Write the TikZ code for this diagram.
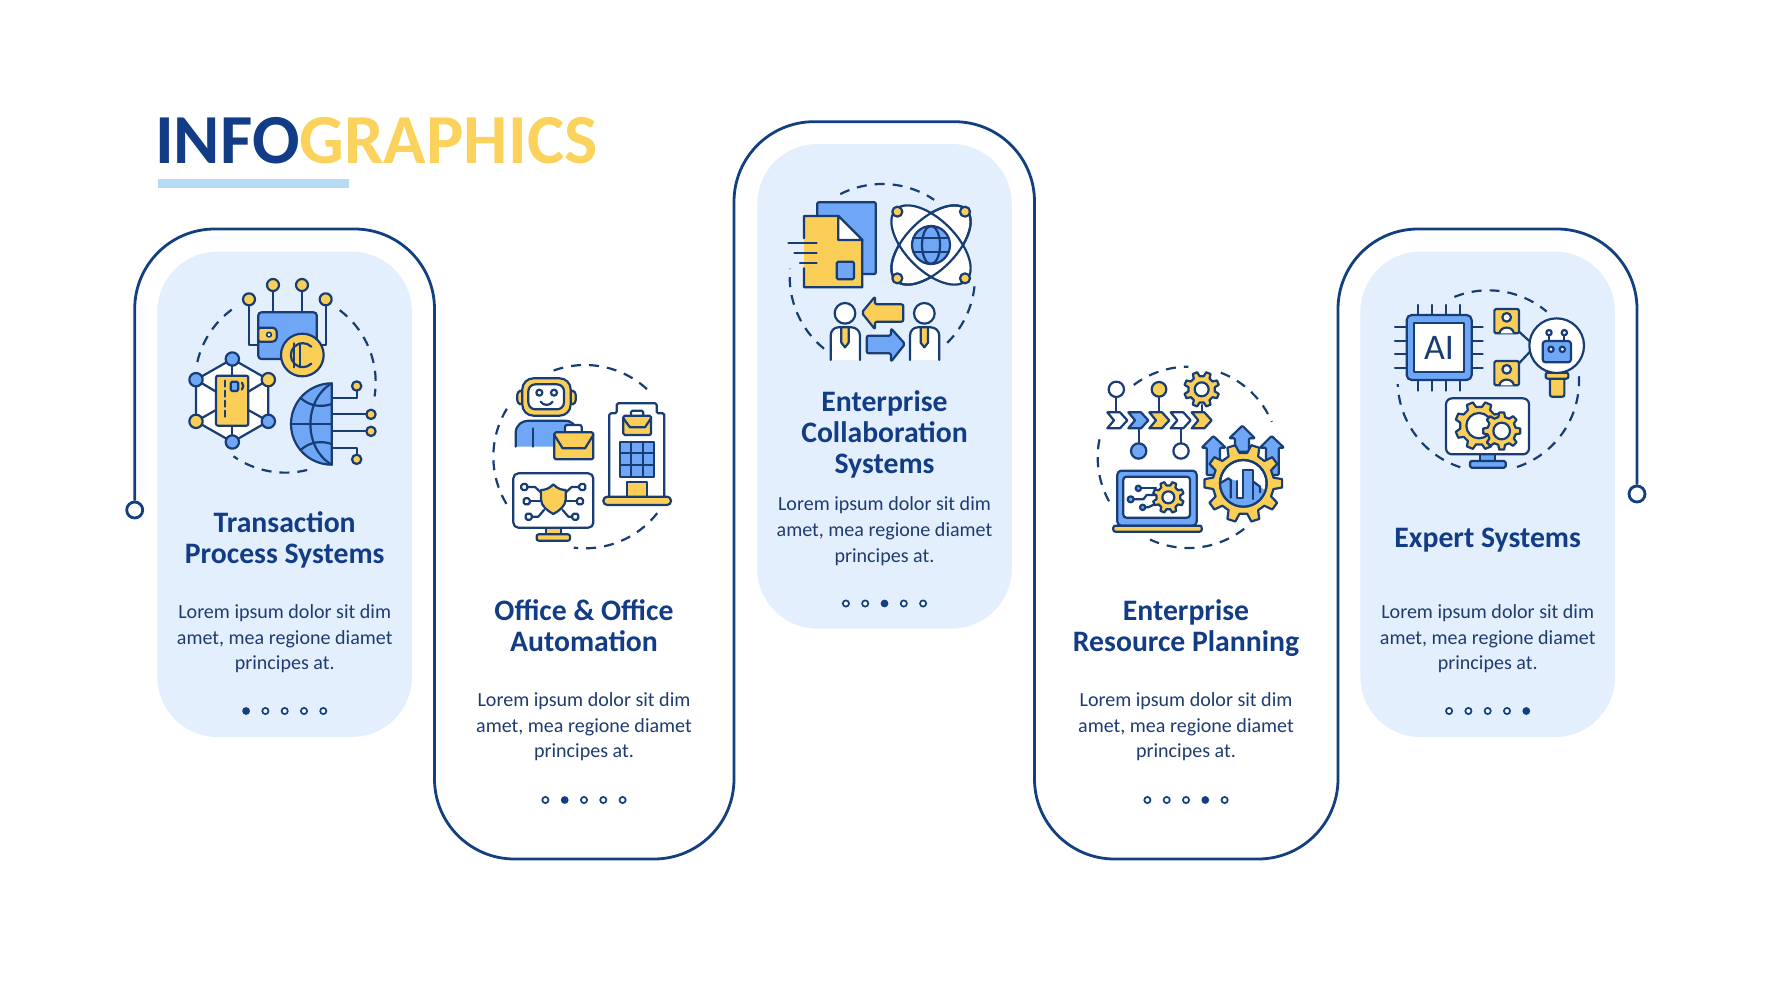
\documentclass[tikz,border=0pt]{standalone}
\usepackage{fontspec}
\setmainfont{Carlito}
\definecolor{navy}{HTML}{123F80}
\definecolor{ink}{HTML}{173D74}
\definecolor{yel}{HTML}{FBCE57}
\definecolor{blu}{HTML}{6FA6F6}
\definecolor{pan}{HTML}{E3EFFC}
\definecolor{bodyc}{HTML}{1F3C70}
\definecolor{titlec}{HTML}{123C85}
\definecolor{gold}{HTML}{FBD35C}
\definecolor{barc}{HTML}{B5DBF5}
\tikzset{
  framepath/.style={draw=navy,line width=2.8pt,rounded corners=80pt},
  enddot/.style={circle,draw=navy,line width=2.8pt,fill=white,minimum size=16pt,inner sep=0pt},
  panelbox/.style={fill=pan,rounded corners=60pt,inner sep=0pt,minimum width=254.5pt},
  headline/.style={font=\fontsize{29.7}{31}\selectfont\bfseries,text=titlec,align=center,anchor=base,inner sep=0pt},
  bodytext/.style={font=\fontsize{20.05}{26}\selectfont,text=bodyc,align=center,anchor=base,inner sep=0pt},
  ic/.style={draw=ink,line width=2.2pt,line join=round,line cap=round},
  dashc/.style={draw=ink,line width=2.2pt,dash pattern=on 10pt off 8pt,line cap=butt},
  Y/.style={ic,fill=yel},
  B/.style={ic,fill=blu},
  W/.style={ic,fill=white},
  zoomed/.style={x=0.33333pt,y=-0.33333pt}
}
\newcommand{\darc}[5]{\draw[dashc] (#1,#2) ++(#4:#3) arc[start angle=#4,end angle=#5,radius=#3];}
\newcommand{\gearshape}[8]{% cx cy ro ri hole teeth rot holefill
 \begin{scope}[shift={(#1,#2)}]
 \draw[Y] ({#7-0.3*360/#6}:#4) \foreach \k in {1,...,#6}{
   -- ({#7+(\k-1)*360/#6-0.3*360/#6}:#4)
   -- ({#7+(\k-1)*360/#6-0.17*360/#6}:#3)
   -- ({#7+(\k-1)*360/#6+0.17*360/#6}:#3)
   -- ({#7+(\k-1)*360/#6+0.3*360/#6}:#4)} -- cycle;
 \draw[ic,fill=#8] (0,0) circle[radius=#5];
 \end{scope}}
\newcommand{\pager}[3]{% cx cy active
 \foreach \k in {1,...,5}{
  \ifnum\k=#3\relax
   \fill[navy] ({#1+(\k-3)*19.3},#2) circle[radius=3.9];
  \else
   \draw[navy,line width=1.7pt,fill=white] ({#1+(\k-3)*19.3},#2) circle[radius=3.1];
  \fi}}
\begin{document}
\begin{tikzpicture}[x=1pt,y=-1pt]
\useasboundingbox (0,0) rectangle (1772,980);
\fill[white] (0,0) rectangle (1772,980);

% heading
\node[anchor=base west,inner sep=0pt,font=\fontsize{70.3}{70}\selectfont\bfseries] (heading) at (155,163.7) {\textcolor{titlec}{INFO}\textcolor{gold}{GRAPHICS}};
\fill[barc] (158.3,179) rectangle (349,187.7);

% panels
\node[panelbox,minimum height=485.3pt] (p1) at (284.6,494.3) {};
\node[panelbox,minimum height=484.6pt] (p3) at (884.5,386.3) {};
\node[panelbox,minimum height=485.3pt] (p5) at (1487.7,494.3) {};

% end dots and serpentine frame
\node[enddot] (dotA) at (134.7,510) {};
\node[enddot] (dotB) at (1637,494) {};
\draw[framepath] (dotA.north) -- (134.7,229) -- (434.5,229) -- (434.5,859) -- (734,859) -- (734,121.7) -- (1034.5,121.7) -- (1034.5,859) -- (1338,859) -- (1338,229) -- (1637,229) -- (dotB.north);

% texts
\node[headline] (t1a) at (284.7,532.7) {Transaction};
\node[headline] (t1b) at (284.7,563.7) {Process Systems};
\node[bodytext] (b1a) at (284.7,618) {Lorem ipsum dolor sit dim};
\node[bodytext] (b1b) at (284.7,644) {amet, mea regione diamet};
\node[bodytext] (b1c) at (284.7,669.5) {principes at.};
\pager{284.7}{711}{1}

\node[headline] (t2a) at (584,620.7) {Office \& Office};
\node[headline] (t2b) at (584,651.7) {Automation};
\node[bodytext] (b2a) at (584,706) {Lorem ipsum dolor sit dim};
\node[bodytext] (b2b) at (584,732) {amet, mea regione diamet};
\node[bodytext] (b2c) at (584,757.5) {principes at.};
\pager{584}{800}{2}

\node[headline] (t3a) at (884.5,411.3) {Enterprise};
\node[headline] (t3b) at (884.5,442.3) {Collaboration};
\node[headline] (t3c) at (884.5,473.3) {Systems};
\node[bodytext] (b3a) at (884.5,510.6) {Lorem ipsum dolor sit dim};
\node[bodytext] (b3b) at (884.5,536.6) {amet, mea regione diamet};
\node[bodytext] (b3c) at (884.5,562.1) {principes at.};
\pager{884.5}{603.5}{3}

\node[headline] (t4a) at (1186,620.7) {Enterprise};
\node[headline] (t4b) at (1186,651.7) {Resource Planning};
\node[bodytext] (b4a) at (1186,706) {Lorem ipsum dolor sit dim};
\node[bodytext] (b4b) at (1186,732) {amet, mea regione diamet};
\node[bodytext] (b4c) at (1186,757.5) {principes at.};
\pager{1186}{800}{4}

\node[headline] (t5a) at (1487.7,547.7) {Expert Systems};
\node[bodytext] (b5a) at (1487.7,618) {Lorem ipsum dolor sit dim};
\node[bodytext] (b5b) at (1487.7,644) {amet, mea regione diamet};
\node[bodytext] (b5c) at (1487.7,669.5) {principes at.};
\pager{1487.7}{711}{5}

%%%%%%%%%% ICON 1
\begin{scope}[shift={(170,260)},zoomed]
\darc{346}{367}{271}{193}{236}
\darc{346}{367}{271}{-53}{9}
\darc{346}{367}{271}{76}{125}
% wallet leads
\draw[ic] (237,118) |- (265,255);
\draw[ic] (467,118) |- (440,255);
\draw[ic] (309,75) -- (309,157);
\draw[ic] (396,75) -- (396,157);
\draw[Y] (237,118) circle[radius=18];
\draw[Y] (309,75) circle[radius=18];
\draw[Y] (396,75) circle[radius=18];
\draw[Y] (467,118) circle[radius=18];
\draw[B,rounded corners=3pt] (265,157) rectangle (440,297);
\draw[Y,rounded corners=1.5pt] (265,203) -- (312,203) -- (320,210) -- (320,238) -- (312,245) -- (265,245) -- cycle;
\draw[W,line width=1.6pt] (297,224) circle[radius=7];
\draw[Y] (397,285) circle[radius=64];
\draw[ic] (372,250) -- (372,322);
\draw[ic] (391,250) -- (391,322);
\draw[ic] (424,260) arc[start angle=-45,end angle=-315,radius=36];
% hexagon
\draw[W] (187,297) -- (295,359) -- (295,484) -- (187,546) -- (78,484) -- (78,359) -- cycle;
\draw[ic] (78,359) -- (138,395);
\draw[ic] (295,359) -- (235,395);
\draw[ic] (78,484) -- (138,450);
\draw[ic] (295,484) -- (235,450);
\draw[ic] (187,297) -- (187,347);
\draw[ic] (187,497) -- (187,546);
\draw[Y,rounded corners=2pt] (138,347) rectangle (235,497);
\draw[B,rounded corners=1.5pt] (182,365) rectangle (205,393);
\draw[ic,dash pattern=on 6pt off 4pt] (165,362) -- (165,478);
\draw[ic] (216,368) arc[start angle=-40,end angle=40,radius=16];
\draw[B] (187,297) circle[radius=20];
\draw[Y] (295,359) circle[radius=20];
\draw[B] (295,484) circle[radius=20];
\draw[B] (187,546) circle[radius=20];
\draw[Y] (78,484) circle[radius=20];
\draw[B] (78,359) circle[radius=20];
% globe
\draw[ic] (485,413) -- (560,413) -- (560,378);
\draw[ic] (485,463) -- (603,463);
\draw[ic] (485,514) -- (603,514);
\draw[ic] (485,565) -- (560,565) -- (560,598);
\draw[B] (485,370) arc[start angle=-90,end angle=-270,radius=122] -- cycle;
\draw[ic] (363,492) -- (485,492);
\draw[ic] (485,370) .. controls (400,420) and (400,565) .. (485,614);
\draw[ic] (392,414) .. controls (420,440) and (455,442) .. (485,432);
\draw[ic] (392,570) .. controls (420,544) and (455,542) .. (485,552);
\draw[Y] (560,378) circle[radius=14];
\draw[Y] (603,463) circle[radius=14];
\draw[Y] (603,514) circle[radius=14];
\draw[Y] (560,598) circle[radius=14];
\end{scope}

%%%%%%%%%% ICON 2
\begin{scope}[shift={(480,350)},zoomed]
\darc{315}{320}{275}{149}{213}
\darc{315}{320}{275}{-110}{-43}
\darc{315}{320}{275}{38}{97}
% robot
\draw[Y,rounded corners=3pt] (127,120) -- (112,125) -- (112,160) -- (127,165) -- cycle;
\draw[Y,rounded corners=3pt] (272,120) -- (287,125) -- (287,160) -- (272,165) -- cycle;
\fill[blu] (107,290) -- (107,250) .. controls (107,225) and (125,212) .. (150,212) -- (255,212) .. controls (272,212) and (285,222) .. (290,240) -- (280,290) -- cycle;
\draw[ic] (107,290) -- (107,250) .. controls (107,225) and (125,212) .. (150,212) -- (255,212) .. controls (272,212) and (285,222) .. (290,240);
\draw[ic] (160,290) -- (160,235);
\draw[Y,rounded corners=11pt] (127,85) rectangle (272,197);
\draw[W,rounded corners=7pt] (145,103) rectangle (252,178);
\draw[ic] (178,128) circle[radius=9];
\draw[ic] (222,128) circle[radius=9];
\draw[ic] (182,155) .. controls (190,168) and (210,168) .. (218,155);
% case
\draw[W,rounded corners=2pt] (255,247) -- (255,225) -- (305,225) -- (305,247);
\draw[Y,rounded corners=1.5pt] (223,247) rectangle (340,328);
\draw[ic] (223,255) -- (248,295) -- (315,295) -- (340,255);
% building
\draw[W,rounded corners=1.5pt] (388,445) -- (388,190) -- (410,190) -- (410,160) -- (530,160) -- (530,190) -- (553,190) -- (553,445);
\draw[W,rounded corners=1.5pt] (453,197) -- (453,182) -- (490,182) -- (490,197);
\draw[Y,rounded corners=1.5pt] (430,197) rectangle (513,255);
\draw[ic] (430,205) -- (450,232) -- (495,232) -- (513,205);
\draw[B] (420,275) rectangle (522,380);
\draw[ic] (454,275) -- (454,380) (488,275) -- (488,380) (420,310) -- (522,310) (420,345) -- (522,345);
\draw[Y] (442,440) rectangle (500,397);
\draw[Y,rounded corners=4pt] (370,440) rectangle (573,465);
% monitor
\draw[Y] (197,533) rectangle (243,556);
\draw[Y,rounded corners=2pt] (170,553) rectangle (270,572);
\draw[W,rounded corners=5pt] (100,370) rectangle (340,533);
\foreach \ax/\ay/\bx/\by/\cx/\cy in {133/411/165/411/188/432, 140/454/185/454/185/454, 146/500/175/500/192/480, 307/411/275/411/252/432, 300/454/255/454/255/454, 286/500/265/500/248/480}{
  \draw[ic] (\ax,\ay) -- (\bx,\by) -- (\cx,\cy);
  \draw[W,rounded corners=1.5pt] (\ax-9,\ay-9) rectangle (\ax+9,\ay+9);
}
\draw[Y] (220,403) .. controls (232,416) and (245,420) .. (257,420) -- (257,448) .. controls (257,468) and (238,482) .. (220,492) .. controls (202,482) and (183,468) .. (183,448) -- (183,420) .. controls (195,420) and (208,416) .. (220,403) -- cycle;
\end{scope}

%%%%%%%%%% ICON 3
\begin{scope}[shift={(780,170)},zoomed]
\darc{307}{320}{278}{-117}{-56}
\darc{307}{320}{278}{6}{47}
\darc{307}{320}{278}{129}{185}
% documents
\draw[B,rounded corners=1pt] (112,138) -- (112,97) -- (287,97) -- (287,312) -- (247,312);
\fill[yel] (72,138) -- (175,138) -- (247,210) -- (247,352) -- (72,352) -- cycle;
\draw[ic] (72,205) -- (72,138) -- (175,138) -- (247,210) -- (247,352) -- (72,352) -- (72,295);
\draw[W] (175,138) -- (247,210) -- (175,210) -- cycle;
\draw[B,rounded corners=1.5pt] (170,275) rectangle (222,328);
\draw[ic] (25,218) -- (110,218);
\draw[ic] (43,248) -- (110,248);
\draw[ic] (60,280) -- (110,280);
% atom
\draw[W,rotate around={45:(453,225)}] (453,225) ellipse[x radius=150,y radius=76];
\draw[ic,fill=white,rotate around={-45:(453,225)}] (453,225) ellipse[x radius=150,y radius=76];
\draw[ic,rotate around={45:(453,225)}] (453,225) ellipse[x radius=150,y radius=76];
\draw[B] (453,225) circle[radius=57];
\draw[ic] (453,225) ellipse[x radius=27,y radius=57];
\draw[ic] (402,203) -- (504,203);
\draw[ic] (402,247) -- (504,247);
\draw[Y] (352,125) circle[radius=15];
\draw[Y] (555,125) circle[radius=15];
\draw[Y] (352,325) circle[radius=15];
\draw[Y] (555,325) circle[radius=15];
% people
\foreach \px in {195,433}{
  \fill[white] (\px-43,570) -- (\px-43,497) .. controls (\px-43,482) and (\px-32,472) .. (\px-20,472) -- (\px+20,472) .. controls (\px+32,472) and (\px+45,482) .. (\px+45,497) -- (\px+45,570) -- cycle;
  \draw[ic] (\px-43,570) -- (\px-43,497) .. controls (\px-43,482) and (\px-32,472) .. (\px-20,472) -- (\px+20,472) .. controls (\px+32,472) and (\px+45,482) .. (\px+45,497) -- (\px+45,570);
  \draw[Y] (\px-11,472) -- (\px+11,472) -- (\px+11,518) -- (\px,532) -- (\px-11,518) -- cycle;
  \draw[W] (\px,430) circle[radius=31];
}
\draw[Y,rounded corners=2pt] (245,428) -- (285,380) -- (285,403) -- (370,403) -- (370,455) -- (285,455) -- (285,478) -- cycle;
\draw[B,rounded corners=2pt] (375,522) -- (333,475) -- (333,497) -- (260,497) -- (260,550) -- (333,550) -- (333,575) -- cycle;
\end{scope}

%%%%%%%%%% ICON 4
\begin{scope}[shift={(1080,355)},zoomed]
\darc{325}{307}{272}{-127}{-90}
\darc{325}{307}{272}{-69}{-23}
\darc{325}{307}{272}{151}{194}
\darc{325}{307}{272}{52}{115}
\draw[ic] (109,103) -- (109,172);
\draw[ic] (237,103) -- (237,172);
\draw[ic] (176,288) -- (176,220);
\draw[ic] (303,288) -- (303,220);
\draw[ic] (365,150) -- (365,172);
\foreach \ox/\st in {82/W,145/B,208/Y,272/W,335/Y}{
  \draw[\st] (\ox,172) -- (\ox+38,172) -- (\ox+60,196) -- (\ox+38,220) -- (\ox,220) -- (\ox+20,196) -- cycle;
}
\draw[W] (109,103) circle[radius=23];
\draw[Y] (237,103) circle[radius=22];
\draw[B] (176,288) circle[radius=23];
\draw[W] (303,288) circle[radius=23];
\gearshape{365}{103}{53}{40}{21}{8}{22.5}{white}
% laptop
\draw[B,rounded corners=4pt] (112,347) rectangle (350,512);
\draw[W,rounded corners=3pt] (130,365) rectangle (330,488);
\draw[Y,rounded corners=2pt] (100,512) rectangle (365,530);
\draw[ic] (175,400) -- (228,400);
\draw[ic] (152,433) -- (190,433) -- (200,420) -- (228,420);
\draw[ic] (188,457) -- (205,457) -- (228,445);
\draw[B] (175,400) circle[radius=8];
\draw[B] (152,433) circle[radius=9];
\draw[B] (188,457) circle[radius=8];
\gearshape{265}{427}{47}{36}{18}{8}{22.5}{white}
% arrows
\draw[B,rounded corners=1pt] (400,243) -- (437,278) -- (420,278) -- (420,360) -- (380,360) -- (380,278) -- (365,278) -- cycle;
\draw[B,rounded corners=1pt] (575,243) -- (612,278) -- (596,278) -- (596,360) -- (558,360) -- (558,278) -- (540,278) -- cycle;
\draw[B,rounded corners=1pt] (487,212) -- (525,250) -- (507,250) -- (507,290) -- (465,290) -- (465,250) -- (448,250) -- cycle;
% big gear
\gearshape{490}{385}{117}{92}{70}{10}{0}{white}
\begin{scope}
\clip (490,385) circle[radius=68];
\fill[blu] (420,385) -- (445,370) -- (470,378) -- (470,460) -- (420,460) -- cycle;
\fill[blu] (490,345) rectangle (520,460);
\fill[blu] (420,428) rectangle (560,460);
\fill[blu] (520,380) -- (560,410) -- (560,460) -- (520,460) -- cycle;
\draw[ic] (420,385) -- (445,370) -- (452,375) -- (452,428);
\draw[ic] (470,378) -- (470,428) -- (490,428) -- (490,345) -- (520,345) -- (520,432);
\draw[ic] (520,380) -- (540,395) -- (540,412);
\end{scope}
\draw[ic] (490,385) circle[radius=70];
\end{scope}

%%%%%%%%%% ICON 5
\begin{scope}[shift={(1380,280)},zoomed]
\darc{325}{303}{272}{-112}{-50}
\darc{325}{303}{272}{-3}{72}
\darc{325}{303}{272}{108}{178}
% chip
\foreach \t in {115,157,198,240}{\draw[ic] (\t,75) -- (\t,332);}
\foreach \t in {140,182,223,265}{\draw[ic] (45,\t) -- (308,\t);}
\draw[B,rounded corners=5pt] (80,105) rectangle (275,300);
\draw[W] (103,128) rectangle (252,277);
\node[inner sep=0pt,text=ink,font=\fontsize{36}{36}\selectfont] (ailabel) at (177,203) {AI};
% users
\draw[ic] (417,155) -- (450,185);
\draw[ic] (417,250) -- (450,215);
\foreach \uy in {87,243}{
  \draw[Y,rounded corners=1.5pt] (343,\uy) rectangle (417,\uy+73);
  \draw[W] (380,\uy+25) circle[radius=13];
  \draw[W] (358,\uy+73) .. controls (362,\uy+50) and (398,\uy+50) .. (402,\uy+73);
}
% bulb
\draw[Y,rounded corners=2pt] (510,285) rectangle (553,350);
\draw[Y,rounded corners=2pt] (497,278) rectangle (565,296);
\draw[W] (530,197) circle[radius=82];
\draw[ic] (507,158) -- (507,183);
\draw[ic] (553,158) -- (553,183);
\draw[W] (507,158) circle[radius=8];
\draw[W] (553,158) circle[radius=8];
\draw[B,rounded corners=3pt] (488,183) rectangle (573,247);
\draw[W] (513,208) circle[radius=8];
\draw[W] (547,208) circle[radius=8];
% monitor
\draw[B] (300,523) rectangle (345,545);
\draw[B,rounded corners=1.5pt] (270,543) rectangle (377,563);
\draw[W,rounded corners=6pt] (198,355) rectangle (447,523);
\gearshape{297}{437}{72}{57}{38}{8}{22.5}{white}
\gearshape{365}{453}{56}{43}{25}{8}{0}{white}
\end{scope}
\end{tikzpicture}
\end{document}
